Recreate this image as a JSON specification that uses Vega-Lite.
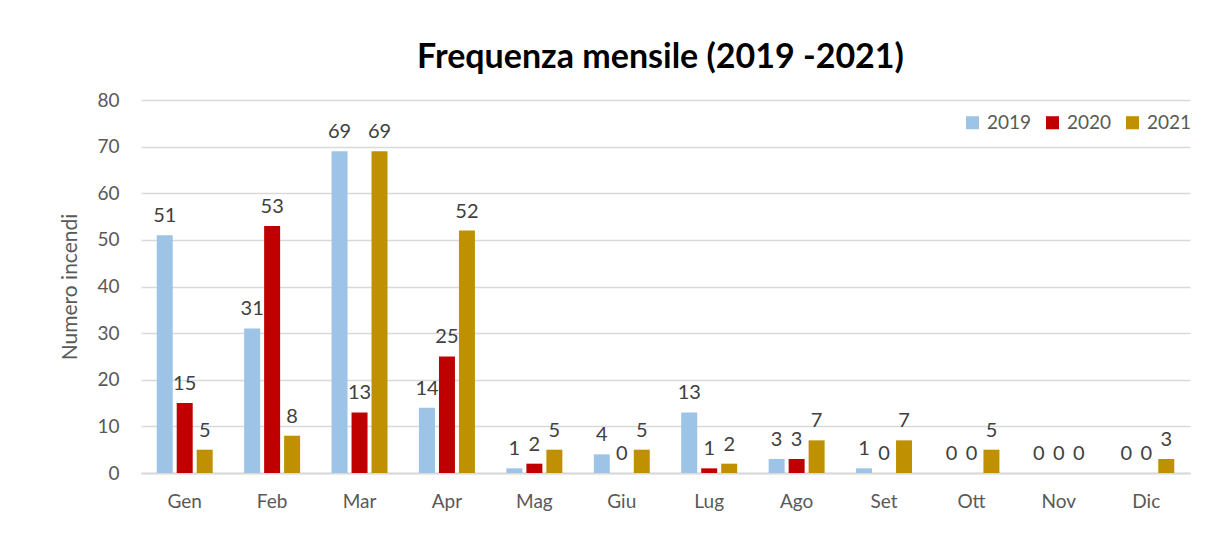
{
  "$schema": "https://vega.github.io/schema/vega-lite/v6.json",
  "width": 1049,
  "height": 373,
  "autosize": {"type": "none"},
  "padding": {"left": 141, "top": 100, "right": 18, "bottom": 61},
  "background": "white",
  "title": {
    "text": "Frequenza mensile (2019 -2021)",
    "font": "Lato",
    "fontSize": 34,
    "fontWeight": "bold",
    "color": "#000000",
    "anchor": "middle",
    "dx": -5,
    "offset": 16
  },
  "data": {
    "values": [
      {"mese": "Gen", "anno": "2019", "n": 51}, {"mese": "Gen", "anno": "2020", "n": 15}, {"mese": "Gen", "anno": "2021", "n": 5},
      {"mese": "Feb", "anno": "2019", "n": 31}, {"mese": "Feb", "anno": "2020", "n": 53}, {"mese": "Feb", "anno": "2021", "n": 8},
      {"mese": "Mar", "anno": "2019", "n": 69}, {"mese": "Mar", "anno": "2020", "n": 13}, {"mese": "Mar", "anno": "2021", "n": 69},
      {"mese": "Apr", "anno": "2019", "n": 14}, {"mese": "Apr", "anno": "2020", "n": 25}, {"mese": "Apr", "anno": "2021", "n": 52},
      {"mese": "Mag", "anno": "2019", "n": 1}, {"mese": "Mag", "anno": "2020", "n": 2}, {"mese": "Mag", "anno": "2021", "n": 5},
      {"mese": "Giu", "anno": "2019", "n": 4}, {"mese": "Giu", "anno": "2020", "n": 0}, {"mese": "Giu", "anno": "2021", "n": 5},
      {"mese": "Lug", "anno": "2019", "n": 13}, {"mese": "Lug", "anno": "2020", "n": 1}, {"mese": "Lug", "anno": "2021", "n": 2},
      {"mese": "Ago", "anno": "2019", "n": 3}, {"mese": "Ago", "anno": "2020", "n": 3}, {"mese": "Ago", "anno": "2021", "n": 7},
      {"mese": "Set", "anno": "2019", "n": 1}, {"mese": "Set", "anno": "2020", "n": 0}, {"mese": "Set", "anno": "2021", "n": 7},
      {"mese": "Ott", "anno": "2019", "n": 0}, {"mese": "Ott", "anno": "2020", "n": 0}, {"mese": "Ott", "anno": "2021", "n": 5},
      {"mese": "Nov", "anno": "2019", "n": 0}, {"mese": "Nov", "anno": "2020", "n": 0}, {"mese": "Nov", "anno": "2021", "n": 0},
      {"mese": "Dic", "anno": "2019", "n": 0}, {"mese": "Dic", "anno": "2020", "n": 0}, {"mese": "Dic", "anno": "2021", "n": 3}
    ]
  },
  "encoding": {
    "x": {
      "field": "mese", "type": "nominal",
      "sort": ["Gen", "Feb", "Mar", "Apr", "Mag", "Giu", "Lug", "Ago", "Set", "Ott", "Nov", "Dic"],
      "scale": {"paddingInner": 0.36, "paddingOuter": 0.18},
      "axis": {
        "title": null, "labelAngle": 0, "labelFont": "Lato", "labelFontSize": 19,
        "labelColor": "#595959", "labelPadding": 19, "ticks": false,
        "domain": true, "domainColor": "#D9D9D9", "domainWidth": 2, "grid": false
      }
    },
    "xOffset": {"field": "anno", "type": "nominal", "scale": {"paddingInner": 0.2}},
    "y": {
      "field": "n", "type": "quantitative",
      "scale": {"domain": [0, 80]},
      "axis": {
        "title": "Numero incendi", "titleFont": "Lato", "titleFontSize": 21,
        "titleFontWeight": "normal", "titleColor": "#595959", "titlePadding": 16,
        "labelFont": "Lato", "labelFontSize": 19, "labelColor": "#595959",
        "labelPadding": 22, "values": [0, 10, 20, 30, 40, 50, 60, 70, 80],
        "labelOverlap": false,
        "ticks": false, "domain": false, "grid": true, "gridColor": "#D9D9D9", "gridWidth": 1.5
      }
    }
  },
  "layer": [
    {
      "mark": {"type": "bar"},
      "encoding": {
        "color": {
          "field": "anno", "type": "nominal",
          "scale": {"domain": ["2019", "2020", "2021"], "range": ["#9DC3E6", "#C00000", "#BF9000"]},
          "legend": {
            "title": null, "orient": "none", "direction": "horizontal",
            "legendX": 822, "legendY": 13, "symbolType": "square", "symbolSize": 170,
            "symbolStrokeWidth": 0, "labelFont": "Lato", "labelFontSize": 19,
            "labelColor": "#595959", "columnPadding": 11, "labelOffset": 5
          }
        }
      }
    },
    {
      "mark": {"type": "text", "baseline": "bottom", "dy": -9, "font": "Lato", "fontSize": 20, "color": "#404040"},
      "encoding": {"text": {"field": "n", "type": "quantitative"}}
    }
  ],
  "config": {"view": {"stroke": null}}
}
